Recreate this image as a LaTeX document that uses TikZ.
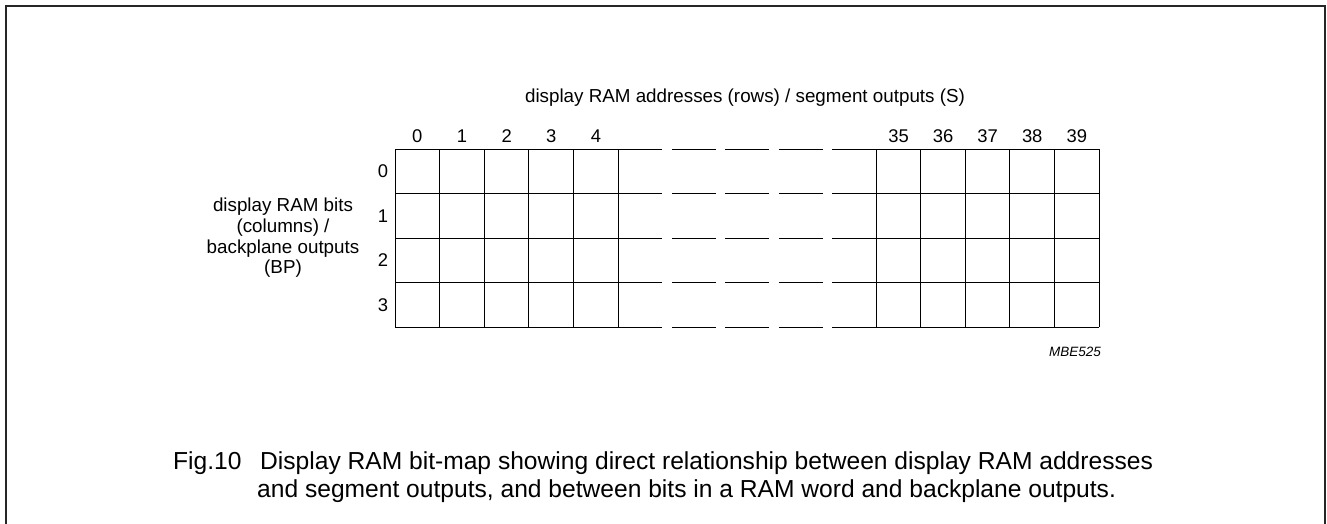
\documentclass[tikz,border=0pt]{standalone}
\usepackage{fontspec}
\setmainfont{Liberation Sans}
\usetikzlibrary{positioning}

\begin{document}
\begin{tikzpicture}[x=1pt, y=-1pt,
    frame/.style={line width=1.8pt, black!85},
    gridline/.style={line width=1pt},
    gapline/.style={line width=1pt, dash pattern=on 44pt off 9.5pt},
    lbl/.style={inner sep=0pt, font=\fontsize{18.4}{20.7}\selectfont},
    tag/.style={inner sep=0pt, font=\fontsize{13.5}{16}\selectfont\itshape},
    captext/.style={inner sep=0pt, anchor=base west, font=\fontsize{24.6}{28}\selectfont}
  ]
  \useasboundingbox (0,0) rectangle (1327,524);
  \draw[frame] (6,530) -- (6,6) -- (1325,6) -- (1325,530);

  \foreach \r in {0,...,4} {
    \draw[gridline] (395,{149+44.5*\r}) -- (618.3,{149+44.5*\r});
    \draw[gapline] (618.3,{149+44.5*\r}) -- (876.3,{149+44.5*\r});
    \draw[gridline] (876.3,{149+44.5*\r}) -- (1099,{149+44.5*\r});
  }
  \foreach \c in {0,...,5} {
    \draw[gridline] ({395+44.66*\c},149) -- ({395+44.66*\c},327);
    \draw[gridline] ({876.3+44.54*\c},149) -- ({876.3+44.54*\c},327);
  }

  \foreach \c in {0,...,4}
    \node[lbl] (col\c) at ({417.3+44.66*\c},136.5) {\c};
  \foreach \c [count=\i from 0] in {35,...,39}
    \node[lbl] (col\c) at ({898.6+44.54*\i},136.5) {\c};
  \foreach \r in {0,...,3}
    \node[lbl] (row\r) at (383,{171.25+44.5*\r}) {\r};

  \node[lbl, anchor=base, font=\fontsize{18.8}{21}\selectfont] (title) at (745,103) {display RAM addresses (rows) / segment outputs (S)};
  \node[lbl, align=center, font=\fontsize{18.8}{20.7}\selectfont] (bplabel) at (283,238) {display RAM bits\\(columns) /\\backplane outputs\\(BP)};
  \node[tag] (code) at (1075,352) {MBE525};

  \node[captext] (fignum) at (173,469) {Fig.10};
  \node[captext] (capline1) at (260,469) {Display RAM bit-map showing direct relationship between display RAM addresses};
  \node[captext] (capline2) at (257,497) {and segment outputs, and between bits in a RAM word and backplane outputs.};
\end{tikzpicture}
\end{document}
